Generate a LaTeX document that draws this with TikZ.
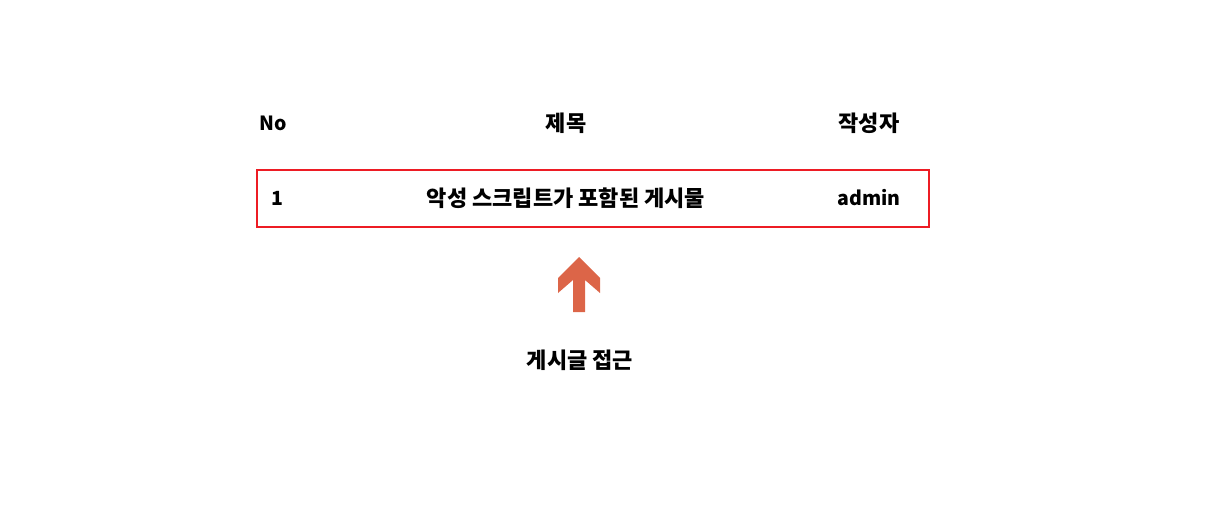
\documentclass[tikz,border=0pt]{standalone}
\usepackage{fontspec}
\setmainfont{Noto Sans CJK KR}
\definecolor{boxred}{RGB}{237,28,36}
\definecolor{arrowor}{RGB}{220,101,72}
\begin{document}
\begin{tikzpicture}[x=1pt,y=-1pt,
  lbl/.style={inner sep=0pt,font=\fontsize{22}{25}\selectfont\bfseries},
  lat/.style={inner sep=0pt,font=\fontsize{19.5}{23}\selectfont\bfseries}]
\useasboundingbox (0,0) rectangle (1223,516);
\node[lat,anchor=west] (hno) at (259,123) {No};
\node[lbl] (htitle) at (566,123) {제목};
\node[lbl] (hauthor) at (869,123) {작성자};
\draw[boxred,line width=2.8pt] (257,170) rectangle (929,227);
\node[lat,anchor=west] (rno) at (271,198) {1};
\node[lbl] (rtitle) at (566,198) {악성 스크립트가 포함된 게시물};
\node[lat] (rauthor) at (869,198) {admin};
\fill[arrowor] (579,257) -- (600,278) -- (600,293) -- (585,280) -- (585,312) -- (573,312) -- (573,280) -- (558,293) -- (558,278) -- cycle;
\node[lbl] (access) at (580,360) {게시글 접근};
\end{tikzpicture}
\end{document}
